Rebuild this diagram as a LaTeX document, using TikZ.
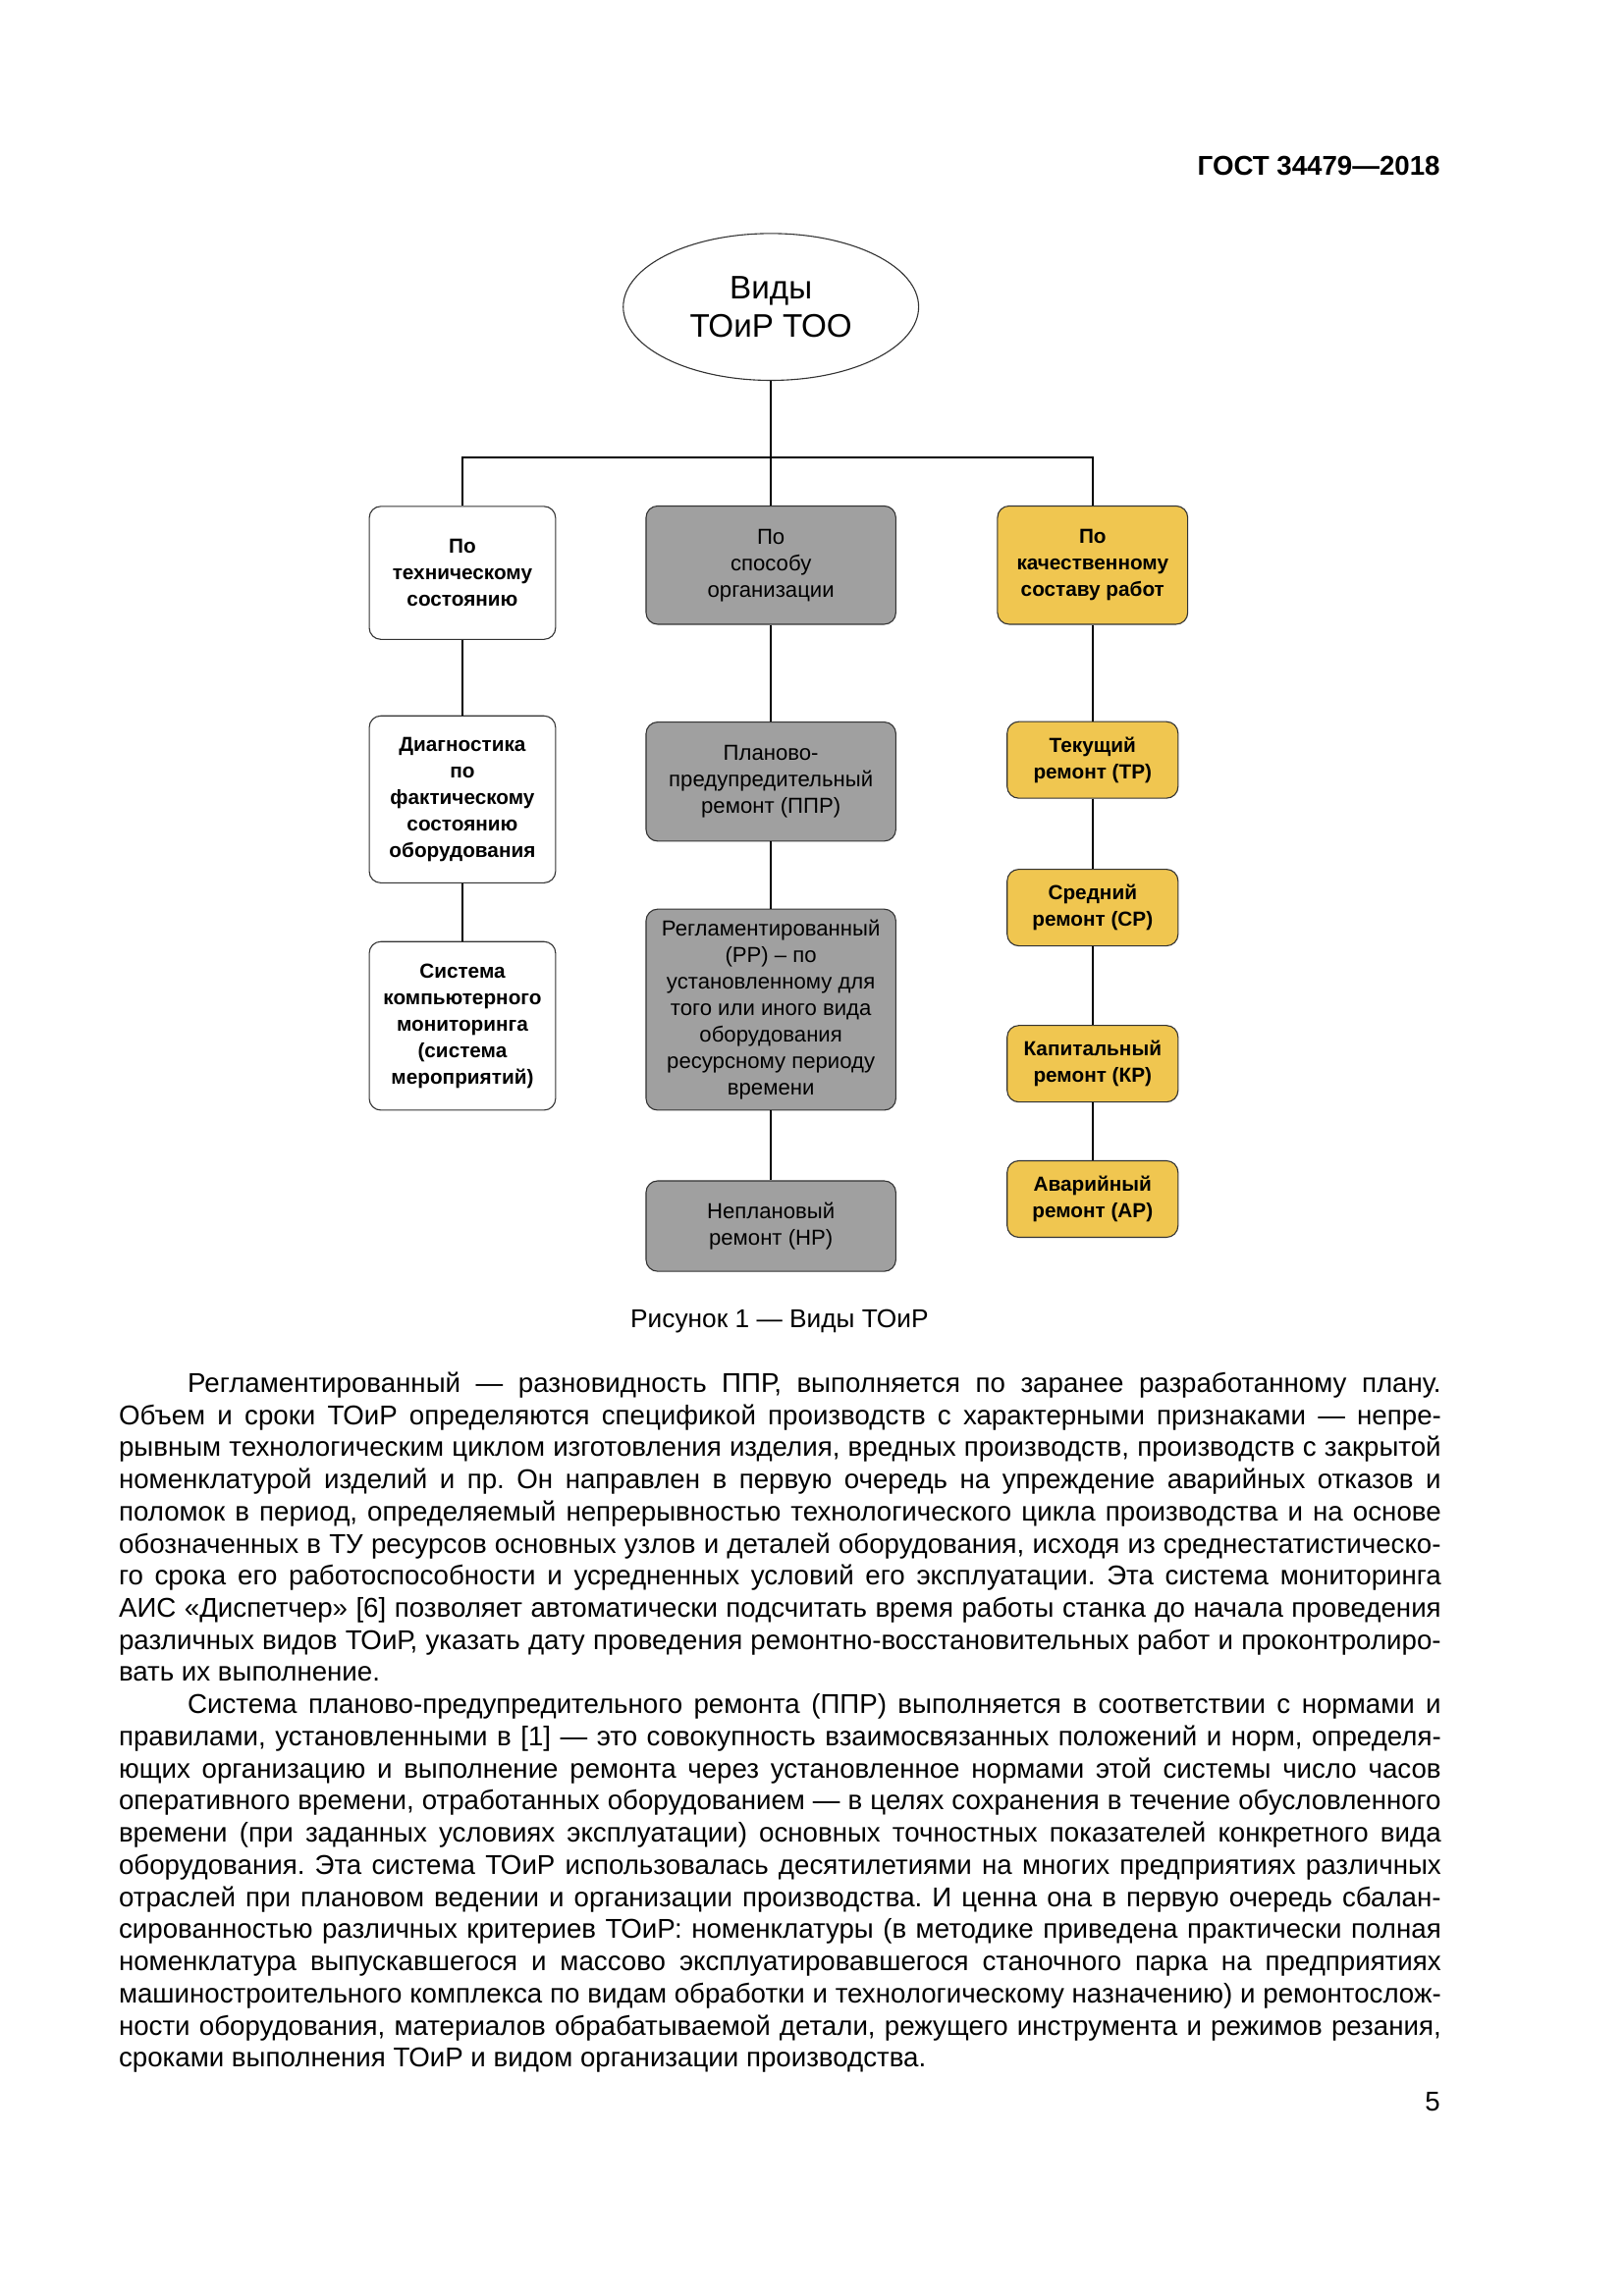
\documentclass[tikz,border=0pt]{standalone}
\usepackage{fontspec}
\setmainfont{Liberation Sans}
\usepackage{graphicx}
\usetikzlibrary{shapes.geometric}
\frenchspacing

\definecolor{boxgray}{RGB}{160,160,160}
\definecolor{boxyellow}{RGB}{240,198,80}

% ширина строки текста и абзацный отступ
\newlength\bodyw \setlength\bodyw{171mm}
\newlength\indw  \setlength\indw{8.9mm}
\newlength\indbodyw \setlength\indbodyw{\dimexpr\bodyw-\indw\relax}
\newsavebox\linebox
\newcommand\fitline[2]{\sbox\linebox{#2}%
  \ifdim\wd\linebox>#1\relax\resizebox{#1}{\ht\linebox}{\usebox\linebox}%
  \else\makebox[#1][s]{#2}\fi}
\newcommand\jl[1]{\fitline{\bodyw}{#1}}
\newcommand\jli[1]{\hspace*{\indw}\fitline{\indbodyw}{#1}}

\begin{document}
\begin{tikzpicture}[x = 1mm, y = -1mm,
    rootnode/.style = {ellipse, draw = black!80, thin, fill = white, minimum width = 38.2mm,
                       minimum height = 19mm, inner sep = 0pt, align = center,
                       font = \fontsize{12pt}{14pt}\selectfont},
    leftbox/.style  = {draw = black!80, thin, fill = white, rounded corners = 1.5mm,
                       minimum width = 24.1mm, inner sep = 0pt, align = center,
                       font = \fontsize{7.5pt}{9.75pt}\selectfont\bfseries},
    midbox/.style   = {draw = black!80, thin, fill = boxgray, rounded corners = 1.5mm,
                       minimum width = 32.3mm, inner sep = 0pt, align = center,
                       font = \fontsize{8pt}{9.75pt}\selectfont},
    rightbox/.style = {draw = black!80, thin, fill = boxyellow, rounded corners = 1.5mm,
                       minimum width = 22.1mm, inner sep = 0pt, align = center,
                       font = \fontsize{7.5pt}{9.75pt}\selectfont\bfseries},
    link/.style     = {black, line width = 0.8pt}]
    \useasboundingbox (0,0) rectangle (210,297);
    \fill[white] (0,0) rectangle (210,297);

    %колонтитул
    \node[anchor = east, inner sep = 0pt, font = \fontsize{10pt}{12pt}\selectfont\bfseries]
        (head) at (186.3, 21.4) {ГОСТ 34479—2018};

    %корень схемы
    \node[rootnode] (root) at (99.7, 39.7) {Виды\\ТОиР ТОО};

    %по техническому состоянию
    \node[leftbox, minimum height = 17.2mm] (t1) at (59.8, 74.1) {По\\техническому\\состоянию};
    \node[leftbox, minimum height = 21.6mm] (t2) at (59.8, 103.4)
        {Диагностика\\по\\фактическому\\состоянию\\оборудования};
    \node[leftbox, minimum height = 21.8mm] (t3) at (59.8, 132.7)
        {Система\\компьютерного\\мониторинга\\(система\\мероприятий)};

    %по способу организации
    \node[midbox, minimum height = 15.3mm] (m1) at (99.7, 73.1) {По\\способу\\организации};
    \node[midbox, minimum height = 15.4mm] (m2) at (99.7, 101.1)
        {Планово-\\предупредительный\\ремонт (ППР)};
    \node[midbox, minimum height = 26mm] (m3) at (99.7, 130.6)
        {Регламентированный\\(РР) – по\\установленному для\\того или иного вида\\оборудования\\ресурсному периоду\\времени};
    \node[midbox, minimum height = 11.7mm] (m4) at (99.7, 158.6) {Неплановый\\ремонт (НР)};

    %по качественному составу работ
    \node[rightbox, minimum width = 24.6mm, minimum height = 15.3mm] (r1) at (141.3, 73.1)
        {По\\качественному\\составу работ};
    \node[rightbox, minimum height = 9.9mm] (r2) at (141.3, 98.3) {Текущий\\ремонт (ТР)};
    \node[rightbox, minimum height = 9.9mm] (r3) at (141.3, 117.4) {Средний\\ремонт (СР)};
    \node[rightbox, minimum height = 9.9mm] (r4) at (141.3, 137.6) {Капитальный\\ремонт (КР)};
    \node[rightbox, minimum height = 9.9mm] (r5) at (141.3, 155.1) {Аварийный\\ремонт (АР)};

    %связи
    \coordinate (fork) at (99.7, 59.2);
    \draw[link] (root) -- (m1);
    \draw[link] (t1.north) |- (fork) -| (r1.north);
    \draw[link] (t1) -- (t2);
    \draw[link] (t2) -- (t3);
    \draw[link] (m1) -- (m2);
    \draw[link] (m2) -- (m3);
    \draw[link] (m3) -- (m4);
    \draw[link] (r1) -- (r2);
    \draw[link] (r2) -- (r3);
    \draw[link] (r3) -- (r4);
    \draw[link] (r4) -- (r5);

    %подпись рисунка
    \node[inner sep = 0pt, font = \fontsize{9.5pt}{12pt}\selectfont] (caption) at (100.8, 170.9)
        {Рисунок 1 — Виды ТОиР};

    %текст страницы
    \node[anchor = base west, inner sep = 0pt, align = left,
          font = \fontsize{10pt}{11.83pt}\selectfont] (body) at (15.3, 267.4)
    {\jli{Регламентированный — разновидность ППР, выполняется по заранее разработанному плану.}\\
     \jl{Объем и сроки ТОиР определяются спецификой производств с характерными признаками — непре-}\\
     \jl{рывным технологическим циклом изготовления изделия, вредных производств, производств с закрытой}\\
     \jl{номенклатурой изделий и пр. Он направлен в первую очередь на упреждение аварийных отказов и}\\
     \jl{поломок в период, определяемый непрерывностью технологического цикла производства и на основе}\\
     \jl{обозначенных в ТУ ресурсов основных узлов и деталей оборудования, исходя из среднестатистическо-}\\
     \jl{го срока его работоспособности и усредненных условий его эксплуатации. Эта система мониторинга}\\
     \jl{АИС «Диспетчер» [6] позволяет автоматически подсчитать время работы станка до начала проведения}\\
     \jl{различных видов ТОиР, указать дату проведения ремонтно-восстановительных работ и проконтролиро-}\\
     вать их выполнение.\\
     \jli{Система планово-предупредительного ремонта (ППР) выполняется в соответствии с нормами и}\\
     \jl{правилами, установленными в [1] — это совокупность взаимосвязанных положений и норм, определя-}\\
     \jl{ющих организацию и выполнение ремонта через установленное нормами этой системы число часов}\\
     \jl{оперативного времени, отработанных оборудованием — в целях сохранения в течение обусловленного}\\
     \jl{времени (при заданных условиях эксплуатации) основных точностных показателей конкретного вида}\\
     \jl{оборудования. Эта система ТОиР использовалась десятилетиями на многих предприятиях различных}\\
     \jl{отраслей при плановом ведении и организации производства. И ценна она в первую очередь сбалан-}\\
     \jl{сированностью различных критериев ТОиР: номенклатуры (в методике приведена практически полная}\\
     \jl{номенклатура выпускавшегося и массово эксплуатировавшегося станочного парка на предприятиях}\\
     \jl{машиностроительного комплекса по видам обработки и технологическому назначению) и ремонтослож-}\\
     \jl{ности оборудования, материалов обрабатываемой детали, режущего инструмента и режимов резания,}\\
     сроками выполнения ТОиР и видом организации производства.};

    %номер страницы
    \node[anchor = east, inner sep = 0pt, font = \fontsize{10pt}{12pt}\selectfont] (page)
        at (186.3, 271.9) {5};
\end{tikzpicture}
\end{document}
